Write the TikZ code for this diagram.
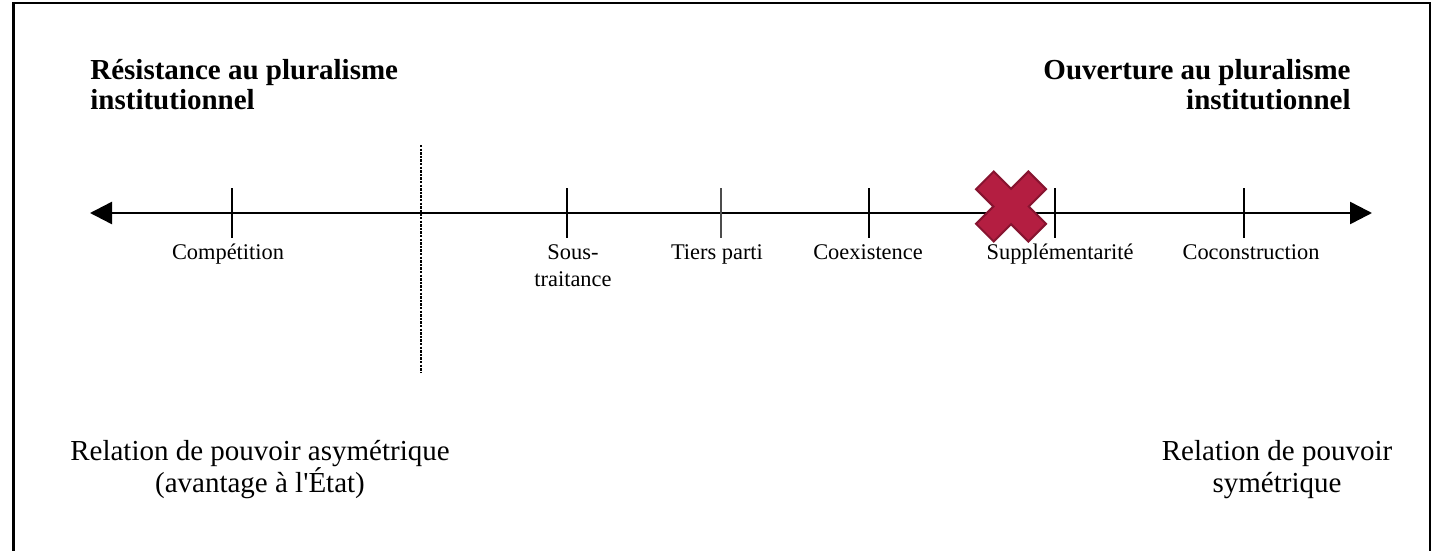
\documentclass[tikz,border=0pt]{standalone}
\usepackage{fontspec}
\setmainfont{Liberation Serif}
\usetikzlibrary{arrows.meta}
\definecolor{crossfill}{RGB}{180,30,65}
\definecolor{crossline}{RGB}{135,20,48}
\tikzset{
  frame/.style={line width=1.25pt, black},
  axis/.style={line width=1.25pt, black, {Triangle[length=11pt,width=11pt]}-{Triangle[length=11pt,width=11pt]}},
  tick/.style={line width=1.2pt, black},
  thintick/.style={line width=0.7pt, black!70},
  sep/.style={line width=0.8pt, black, dash pattern=on 1.2pt off 0.6pt},
  header/.style={inner sep=0pt, font=\fontsize{14.5}{15}\selectfont\bfseries},
  lab/.style={inner sep=0pt, align=center, font=\fontsize{11.2}{13.5}\selectfont},
  bottom/.style={inner sep=0pt, align=center, font=\fontsize{14.5}{15.7}\selectfont},
  cross/.style={fill=crossfill, draw=crossline, line width=1pt, line join=miter}
}
\begin{document}
\begin{tikzpicture}[x=0.5pt, y=-0.5pt]
\useasboundingbox (0,0) rectangle (1434,551);
% frame
\draw[frame] (13.5,551) -- (13.5,3) -- (1430,3) -- (1430,551);
% axis
\coordinate (L) at (90,213);
\coordinate (R) at (1372,213);
\draw[axis] (L) -- (R);
% ticks
\coordinate (t1a) at (232,188); \coordinate (t1b) at (232,238);
\coordinate (t2a) at (567,188); \coordinate (t2b) at (567,238);
\coordinate (t3a) at (721,188); \coordinate (t3b) at (721,238);
\coordinate (t4a) at (869,188); \coordinate (t4b) at (869,238);
\coordinate (t5a) at (1055,188); \coordinate (t5b) at (1055,238);
\coordinate (t6a) at (1244,188); \coordinate (t6b) at (1244,238);
\draw[tick] (t1a) -- (t1b);
\draw[tick] (t2a) -- (t2b);
\draw[thintick] (t3a) -- (t3b);
\draw[tick] (t4a) -- (t4b);
\draw[tick] (t5a) -- (t5b);
\draw[tick] (t6a) -- (t6b);
% separator
\coordinate (s1) at (421,145); \coordinate (s2) at (421,372);
\draw[sep] (s1) -- (s2);
% headers
\node[header, anchor=base west, align=left] (hl) at (90,110) {Résistance au pluralisme\\institutionnel};
\node[header, anchor=base east, align=right] (hr) at (1351,110) {Ouverture au pluralisme\\institutionnel};
% labels
\node[lab, anchor=base] (l1) at (228,259) {Compétition};
\node[lab, anchor=base] (l2) at (573,286) {Sous-\\traitance};
\node[lab, anchor=base] (l3) at (717,259) {Tiers parti};
\node[lab, anchor=base] (l4) at (868,259) {Coexistence};
\node[lab, anchor=base] (l5) at (1060,259) {Supplémentarité};
\node[lab, anchor=base] (l6) at (1251,259) {Coconstruction};
% bottom texts
\node[bottom, anchor=base] (bl) at (260,492) {Relation de pouvoir asymétrique\\(avantage à l\textquotesingle État)};
\node[bottom, anchor=base] (br) at (1277,492) {Relation de pouvoir\\symétrique};
% cross
\begin{scope}[shift={(1011,206.5)}, rotate=45]
\draw[cross] (12.5,37) -- (-12.5,37) -- (-12.5,12.5) -- (-37,12.5) -- (-37,-12.5) -- (-12.5,-12.5) -- (-12.5,-37) -- (12.5,-37) -- (12.5,-12.5) -- (37,-12.5) -- (37,12.5) -- (12.5,12.5) -- cycle;
\end{scope}
\end{tikzpicture}
\end{document}
